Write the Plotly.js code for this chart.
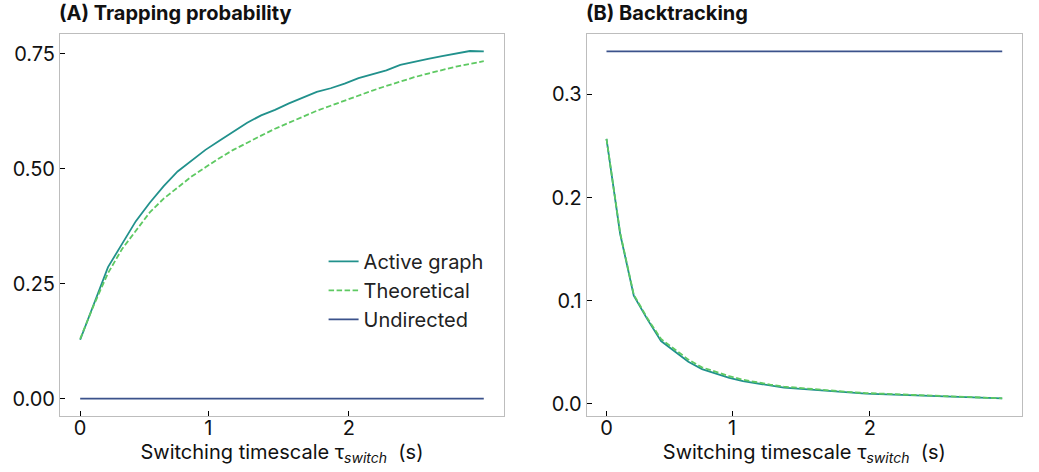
<!DOCTYPE html>
<html>
<head>
<meta charset="utf-8">
<script src="https://cdn.plot.ly/plotly-3.0.1.min.js"></script>
<style>
  html, body { margin: 0; padding: 0; background: #ffffff; }
  #chart { width: 1039px; height: 472px; }
</style>
</head>
<body>
<div id="chart"></div>
<script>
// Sample index along the switching-timescale sweep (30 samples)
const sampleIndex = Array.from({length: 30}, (_, i) => i);

// Tick labels for the switching timescale (tau_switch, s) and the sample positions they sit at
const tauTickLabels = ["0", "1", "2"];
const tauTickSamples = [0, 9.2, 19.3];

// (A) Trapping probability
const trapActive = [0.128, 0.208, 0.286, 0.336, 0.386, 0.426, 0.462, 0.494, 0.518, 0.541,
                    0.561, 0.580, 0.600, 0.616, 0.628, 0.642, 0.655, 0.667, 0.675, 0.685,
                    0.697, 0.706, 0.714, 0.726, 0.733, 0.739, 0.745, 0.750, 0.756, 0.755];
const trapTheory = [0.130, 0.205, 0.273, 0.325, 0.365, 0.405, 0.435, 0.460, 0.483, 0.503,
                    0.523, 0.541, 0.557, 0.572, 0.587, 0.600, 0.614, 0.626, 0.637, 0.648,
                    0.660, 0.670, 0.680, 0.690, 0.699, 0.707, 0.715, 0.722, 0.728, 0.734];
const trapUndirected = new Array(30).fill(0.0);

// (B) Backtracking
const backActive = [0.257, 0.165, 0.105, 0.082, 0.061, 0.051, 0.041, 0.0338, 0.0296, 0.0253,
                    0.0221, 0.0199, 0.0176, 0.0158, 0.0148, 0.0138, 0.0128, 0.0118, 0.0108, 0.0101,
                    0.0096, 0.0091, 0.0086, 0.0082, 0.0077, 0.0073, 0.0068, 0.0063, 0.0059, 0.0054];
const backTheory = [0.257, 0.166, 0.106, 0.083, 0.063, 0.053, 0.043, 0.0355, 0.031, 0.027,
                    0.0235, 0.021, 0.0188, 0.0168, 0.0156, 0.0145, 0.0134, 0.0124, 0.0114, 0.0106,
                    0.0100, 0.0095, 0.0090, 0.0085, 0.0080, 0.0075, 0.0070, 0.0065, 0.0060, 0.0055];
const backUndirected = new Array(30).fill(0.3417);

const seriesNames = ["Active graph", "Theoretical", "Undirected"];
const panelTitles = ["<b>(A) Trapping probability</b>", "<b>(B) Backtracking</b>"];
const xTitle = "Switching timescale τ<sub><i>switch</i></sub>  (s)";

const cActive = "#21918c", cTheory = "#5ec962", cUndir = "#3b528b";
const FONT = "Inter, 'Noto Sans', sans-serif";
const FS = 20;
const DASH = "5.5px,2.5px";

function tr(y, name, color, dash, xa, ya, show) {
  return {x: sampleIndex, y: y, name: name, type: "scatter", mode: "lines",
          line: {color: color, width: 1.8, dash: dash},
          xaxis: xa, yaxis: ya, showlegend: show, hoverinfo: "skip"};
}

const data = [
  tr(trapActive, seriesNames[0], cActive, "solid", "x", "y", true),
  tr(trapTheory, seriesNames[1], cTheory, DASH, "x", "y", true),
  tr(trapUndirected, seriesNames[2], cUndir, "solid", "x", "y", true),
  tr(backActive, seriesNames[0], cActive, "solid", "x2", "y2", false),
  tr(backTheory, seriesNames[1], cTheory, DASH, "x2", "y2", false),
  tr(backUndirected, seriesNames[2], cUndir, "solid", "x2", "y2", false)
];

const axisCommon = {
  showgrid: false, zeroline: false, showline: true, mirror: true,
  linecolor: "#bdbdbd", linewidth: 1,
  ticks: "inside", ticklen: 5, tickwidth: 1, tickcolor: "#000",
  tickfont: {family: FONT, size: FS, color: "#111"}
};

function xAxis(domain, anchor) {
  return Object.assign({}, axisCommon, {
    domain: domain, anchor: anchor, range: [-1.45, 30.45],
    tickmode: "array", tickvals: tauTickSamples, ticktext: tauTickLabels,
    ticklabelstandoff: -6,
    title: {text: xTitle, font: {family: FONT, size: FS, color: "#111"}, standoff: 2}
  });
}

const layout = {
  width: 1039, height: 472,
  margin: {l: 60, r: 17, t: 34, b: 56},
  paper_bgcolor: "#fff", plot_bgcolor: "#fff",
  font: {family: FONT, color: "#111"},
  xaxis: xAxis([0, 0.4615], "y"),
  xaxis2: xAxis([0.5475, 1], "y2"),
  yaxis: Object.assign({}, axisCommon, {
    domain: [0, 1], anchor: "x", range: [-0.0378, 0.793],
    tickvals: [0, 0.25, 0.5, 0.75], ticktext: ["0.00", "0.25", "0.50", "0.75"], tickmode: "array"
  }),
  yaxis2: Object.assign({}, axisCommon, {
    domain: [0, 1], anchor: "x2", range: [-0.01165, 0.3586],
    tickvals: [0, 0.1, 0.2, 0.3], ticktext: ["0.0", "0.1", "0.2", "0.3"], tickmode: "array"
  }),
  legend: {
    x: 0.274, y: 0.456, xanchor: "left", yanchor: "top",
    bgcolor: "rgba(255,255,255,0)", borderwidth: 0,
    font: {family: FONT, size: FS, color: "#222"}
  },
  annotations: [
    {text: panelTitles[0], xref: "paper", yref: "paper", x: 0, y: 1, xanchor: "left", yanchor: "bottom",
     xshift: -3, yshift: 7, showarrow: false, font: {family: FONT, size: FS, color: "#111"}},
    {text: panelTitles[1], xref: "paper", yref: "paper", x: 0.5475, y: 1, xanchor: "left", yanchor: "bottom",
     xshift: -3, yshift: 7, showarrow: false, font: {family: FONT, size: FS, color: "#111"}}
  ]
};

Plotly.newPlot("chart", data, layout, {displayModeBar: false, staticPlot: true});
</script>
</body>
</html>
